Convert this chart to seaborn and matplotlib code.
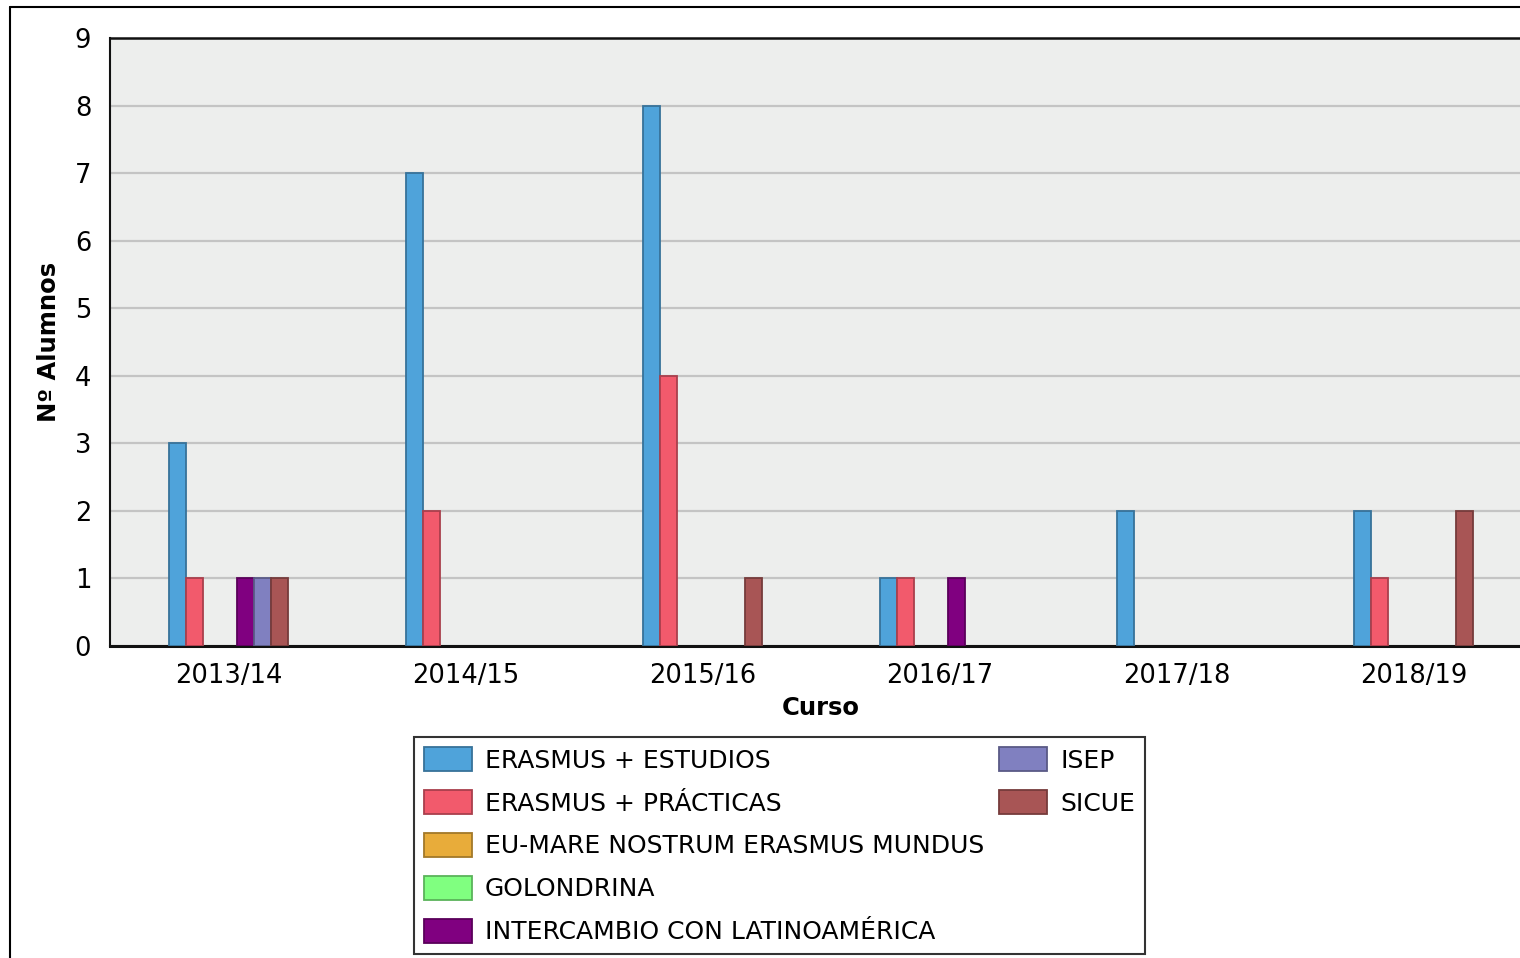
import numpy as np
import pandas as pd
import seaborn as sns
import matplotlib.pyplot as plt
import matplotlib.colors as mcolors
from matplotlib.patches import Patch
from matplotlib.lines import Line2D

cursos = ["2013/14", "2014/15", "2015/16", "2016/17", "2017/18", "2018/19"]
programas = ["ERASMUS + ESTUDIOS", "ERASMUS + PRÁCTICAS", "EU-MARE NOSTRUM ERASMUS MUNDUS",
             "GOLONDRINA", "INTERCAMBIO CON LATINOAMÉRICA", "ISEP", "SICUE"]
erasmus_estudios = [3, 7, 8, 1, 2, 2]
erasmus_practicas = [1, 2, 4, 1, 0, 1]
eu_mare = [0, 0, 0, 0, 0, 0]
golondrina = [0, 0, 0, 0, 0, 0]
intercambio = [1, 0, 0, 1, 0, 0]
isep = [1, 0, 0, 0, 0, 0]
sicue = [1, 0, 1, 0, 0, 2]
colores = ["#4FA3DA", "#F25A6C", "#E8AC3A", "#80FF80", "#800080", "#8080C0", "#A85555"]

series = [erasmus_estudios, erasmus_practicas, eu_mare, golondrina, intercambio, isep, sicue]
rows = []
for prog, vals in zip(programas, series):
    for c, v in zip(cursos, vals):
        rows.append({"Curso": c, "Programa": prog, "Alumnos": v})
df = pd.DataFrame(rows)

sns.set_style("white")
plt.rcParams['font.family'] = ['DejaVu Sans']
plt.rcParams['text.color'] = 'black'
plt.rcParams['axes.labelcolor'] = 'black'

fig = plt.figure(figsize=(15.2, 9.58), dpi=100)
ax = fig.add_axes([110 / 1520, 1 - 646 / 958, 1422 / 1520, 608 / 958])
ax.set_facecolor("#EDEEED")

palette = dict(zip(programas, colores))
sns.barplot(data=df, x="Curso", y="Alumnos", hue="Programa", hue_order=programas,
            order=cursos, palette=palette, width=0.5, saturation=1, legend=False,
            linewidth=1.3, ax=ax, zorder=3)

# darker outline per bar
for bar in ax.patches:
    fc = np.array(mcolors.to_rgb(bar.get_facecolor()))
    bar.set_edgecolor(fc * 0.7)
    if bar.get_height() == 0:
        bar.set_visible(False)

ax.set_xlim(-0.5, len(cursos) - 0.5)
ax.set_ylim(0, 9)
ax.set_yticks(range(10))
ax.yaxis.grid(True, color="#C4C4C4", linewidth=1.6, zorder=0)
ax.set_axisbelow(True)

ax.tick_params(axis="y", labelsize=18.5, length=11, width=1.5, color="#C4C4C4",
               labelcolor="black", direction="inout", pad=8)
ax.tick_params(axis="x", which="major", labelsize=18.5, length=0, pad=12,
               labelcolor="black")
ax.set_xticks(np.arange(-0.5, len(cursos), 1), minor=True)
ax.tick_params(axis="x", which="minor", length=22, width=1.5, color="#C4C4C4",
               direction="inout")

ax.set_xlabel("Curso", fontsize=17.5, fontweight="bold", labelpad=5)
ax.set_ylabel("Nº Alumnos", fontsize=17.5, fontweight="bold", labelpad=10)

for side in ["left", "bottom", "top"]:
    ax.spines[side].set_visible(True)
    ax.spines[side].set_color("#111111")
ax.spines["left"].set_linewidth(1.5)
ax.spines["bottom"].set_linewidth(2.2)
ax.spines["top"].set_linewidth(1.8)
ax.spines["right"].set_visible(False)

# legend: 5 rows in first column, 2 in second
handles = [Patch(facecolor=c, edgecolor=np.array(mcolors.to_rgb(c)) * 0.7, linewidth=1.3)
           for c in colores]
labels = list(programas)
blank = Patch(facecolor="none", edgecolor="none")
handles += [blank] * 3
labels += [""] * 3
leg = fig.legend(handles, labels, ncol=2, loc="upper left",
                 bbox_to_anchor=(414 / 1520, 1 - 737 / 958), fontsize=18,
                 frameon=True, fancybox=False, edgecolor="black",
                 handlelength=1.92, handleheight=1.12, handletextpad=0.52,
                 labelspacing=0.69, columnspacing=0.6, borderpad=0.4,
                 borderaxespad=0)
leg.get_frame().set_linewidth(1.5)

# outer frame
fig.add_artist(Line2D([10 / 1520, 1], [1 - 7 / 958, 1 - 7 / 958], color="black", lw=1.5))
fig.add_artist(Line2D([10 / 1520, 10 / 1520], [0, 1 - 7 / 958], color="black", lw=1.5))

fig.savefig("out.png", dpi=100)
